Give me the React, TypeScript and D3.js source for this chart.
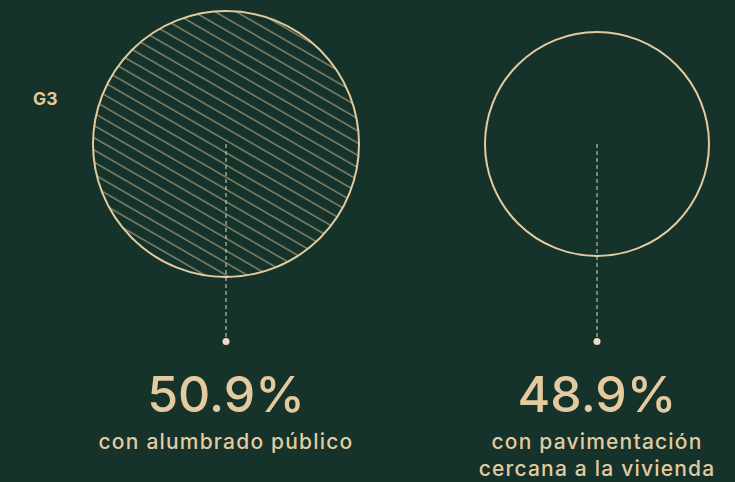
import * as d3 from "d3";
import { useEffect, useRef } from "react";

const WIDTH = 735;
const HEIGHT = 482;

const BG = "#15322b";
const BEIGE = "#e3cb9f";
const DOT = "#ebdfc9";

const labels = ["con alumbrado público", "con pavimentación|cercana a la vivienda"];
const values = [50.9, 48.9];
const hatched = [true, false];
const chartTitle = "G3";

export default function App() {
  const ref = useRef<SVGSVGElement>(null);

  useEffect(() => {
    const svg = d3.select(ref.current);
    svg.selectAll("*").remove();

    svg.append("rect").attr("width", WIDTH).attr("height", HEIGHT).attr("fill", BG);

    const defs = svg.append("defs");
    const pat = defs
      .append("pattern")
      .attr("id", "hatch")
      .attr("patternUnits", "userSpaceOnUse")
      .attr("width", 10.6)
      .attr("height", 10.6)
      .attr("patternTransform", "rotate(30)");
    pat
      .append("line")
      .attr("x1", 0)
      .attr("x2", 10.6)
      .attr("y1", 5)
      .attr("y2", 5)
      .attr("stroke", BEIGE)
      .attr("stroke-width", 0.8);

    const x = d3.scalePoint<number>().domain(d3.range(values.length)).range([226, 597]);
    // circle size
    const r = d3
      .scaleLinear()
      .domain(d3.extent(values) as [number, number])
      .range([112, 133]);
    const cy = 144;
    const dotY = 341.5;

    svg
      .append("text")
      .attr("x", 33)
      .attr("y", 105)
      .attr("fill", BEIGE)
      .style("font-family", "Inter, sans-serif")
      .style("font-weight", 700)
      .style("font-size", "17.5px")
      .text(chartTitle);

    const g = svg
      .selectAll("g.item")
      .data(values)
      .enter()
      .append("g")
      .attr("class", "item")
      .attr("transform", (_, i) => `translate(${x(i)},0)`);

    g.append("circle")
      .attr("cx", 0)
      .attr("cy", cy)
      .attr("r", (d) => r(d))
      .attr("fill", (_, i) => (hatched[i] ? "url(#hatch)" : "none"))
      .attr("stroke", BEIGE)
      .attr("stroke-width", 2);

    g.append("line")
      .attr("x1", 0)
      .attr("x2", 0)
      .attr("y1", cy)
      .attr("y2", dotY)
      .attr("stroke", DOT)
      .attr("stroke-opacity", 0.8)
      .attr("stroke-width", 1.2)
      .attr("stroke-dasharray", "4,3");

    g.append("circle").attr("cx", 0).attr("cy", dotY).attr("r", 3.5).attr("fill", DOT);

    g.append("text")
      .attr("x", 0)
      .attr("y", 412)
      .attr("text-anchor", "middle")
      .attr("fill", BEIGE)
      .style("font-family", "Inter, sans-serif")
      .style("font-weight", 500)
      .style("font-size", "50px")
      .text((d) => `${d.toFixed(1)}%`);

    g.each(function (_, i) {
      const lines = labels[i].split("|");
      d3.select(this)
        .selectAll("text.lab")
        .data(lines)
        .enter()
        .append("text")
        .attr("class", "lab")
        .attr("x", 0)
        .attr("y", (_, j) => 449 + j * 27)
        .attr("text-anchor", "middle")
        .attr("fill", BEIGE)
        .style("font-family", "Inter, sans-serif")
        .style("font-weight", 500)
        .style("font-size", "21px")
        .style("letter-spacing", "1.2px")
        .text((l) => l);
    });
  }, []);

  return (
    <svg
      ref={ref}
      width={WIDTH}
      height={HEIGHT}
      style={{ position: "absolute", left: 0, top: 0 }}
    />
  );
}
